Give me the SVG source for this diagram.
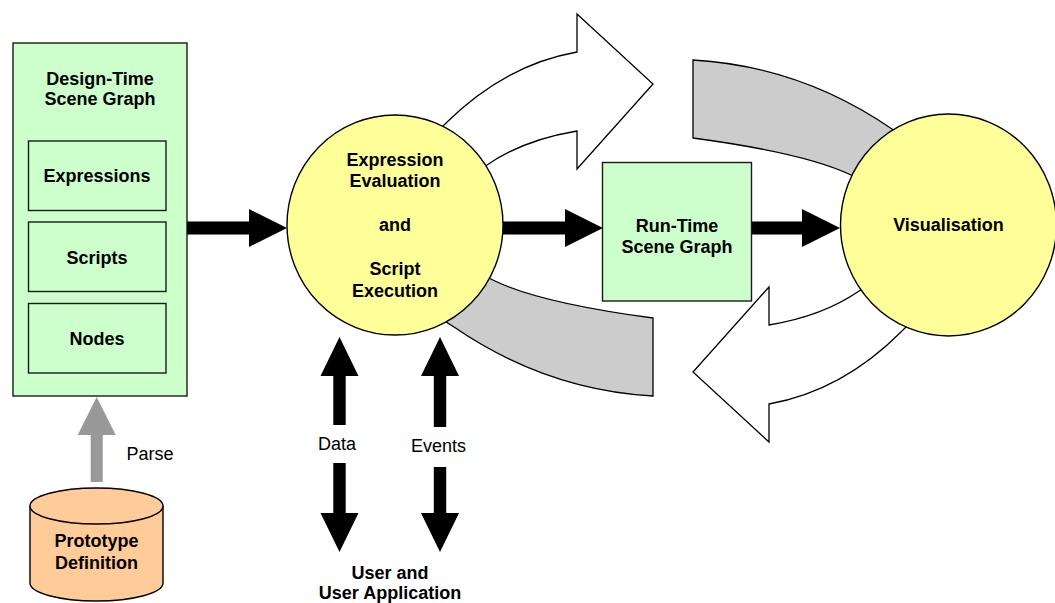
<svg xmlns="http://www.w3.org/2000/svg" width="1055" height="603" viewBox="0 0 1055 603">
  <style>
    .box { fill: #CCFFCC; stroke: #1a1a1a; stroke-width: 1.4; }
    .proc { fill: #FFFF99; stroke: #000; stroke-width: 1.4; }
    .db { fill: #FFCC99; stroke: #000; stroke-width: 1.4; }
    .white-arrow { fill: #FFFFFF; stroke: #000; stroke-width: 1.3; stroke-linejoin: miter; }
    .grey-band { fill: #CCCCCC; stroke: #000; stroke-width: 1.3; }
    .flow { fill: #000; stroke: none; }
    .parse { fill: #999999; stroke: none; }
    text { font-family: "Liberation Sans", Arial, sans-serif; font-size: 18px; fill: #000; }
    .b { font-weight: bold; text-anchor: middle; }
    .r { font-weight: normal; }
  </style>

  <!-- processing cycle between evaluation and visualisation -->
  <g id="cycle">
    <g id="cycle-upper">
      <path class="white-arrow" d="M 433,136 L 445,124 Q 504,65 577,52 L 577,14 L 653,84 L 577,169 L 577,131 Q 523,140 487,165 L 473.6,171.8 Z"/>
      <path class="grey-band" d="M 693,60 Q 800,66 892,129 L 904.6,137 L 864.5,181.5 L 851,175 Q 805,153 693,138 Z"/>
    </g>
    <g id="cycle-lower" transform="rotate(180 673 228)">
      <path class="white-arrow" d="M 433,136 L 445,124 Q 504,65 577,52 L 577,14 L 653,84 L 577,169 L 577,131 Q 523,140 487,165 L 473.6,171.8 Z"/>
      <path class="grey-band" d="M 693,60 Q 800,66 892,129 L 904.6,137 L 864.5,181.5 L 851,175 Q 805,153 693,138 Z"/>
    </g>
  </g>

  <!-- design-time scene graph -->
  <g id="design-time">
    <rect class="box" x="13" y="43" width="174" height="353"/>
    <text class="b" x="100" y="84.5">Design-Time</text>
    <text class="b" x="100" y="105">Scene Graph</text>
    <g id="expressions">
      <rect class="box" x="28.5" y="141" width="137.5" height="69.5"/>
      <text class="b" x="97" y="182">Expressions</text>
    </g>
    <g id="scripts">
      <rect class="box" x="28.5" y="222" width="137.5" height="69.5"/>
      <text class="b" x="97" y="263.5">Scripts</text>
    </g>
    <g id="nodes">
      <rect class="box" x="28.5" y="303.5" width="137.5" height="69.5"/>
      <text class="b" x="97" y="344.5">Nodes</text>
    </g>
  </g>

  <!-- expression evaluation and script execution -->
  <g id="evaluation">
    <ellipse class="proc" cx="395" cy="225" rx="108" ry="110"/>
    <text class="b" x="395" y="165.5">Expression</text>
    <text class="b" x="395" y="187">Evaluation</text>
    <text class="b" x="395" y="230.5">and</text>
    <text class="b" x="395" y="274.5">Script</text>
    <text class="b" x="395" y="296.5">Execution</text>
  </g>

  <!-- run-time scene graph -->
  <g id="run-time">
    <rect class="box" x="602.5" y="162.5" width="149" height="138.5"/>
    <text class="b" x="677" y="231.5">Run-Time</text>
    <text class="b" x="677" y="253">Scene Graph</text>
  </g>

  <!-- visualisation -->
  <g id="visualisation">
    <ellipse class="proc" cx="948.5" cy="225" rx="108" ry="111"/>
    <text class="b" x="948.5" y="231">Visualisation</text>
  </g>

  <!-- prototype definition store -->
  <g id="prototype">
    <path class="db" d="M 30,506 L 30,583 A 66.5,18 0 0 0 163,583 L 163,506"/>
    <ellipse class="db" cx="96.5" cy="506" rx="66.5" ry="18"/>
    <text class="b" x="96.5" y="547">Prototype</text>
    <text class="b" x="96.5" y="568.5">Definition</text>
  </g>

  <!-- user and user application -->
  <g id="user">
    <text class="b" x="390" y="578.5">User and</text>
    <text class="b" x="390" y="599">User Application</text>
  </g>

  <!-- connectors -->
  <g id="connectors">
    <polygon class="flow" points="187,221.5 249,221.5 249,209 287,228 249,247 249,234.5 187,234.5"/>
    <polygon class="flow" points="503,221.5 565,221.5 565,209 603,228 565,247 565,234.5 503,234.5"/>
    <polygon class="flow" points="752,221.5 802,221.5 802,209 840,228 802,247 802,234.5 752,234.5"/>

    <polygon class="parse" points="96.7,397 115.7,435 102.7,435 102.7,482 90.7,482 90.7,435 77.7,435"/>
    <text class="r" x="126.5" y="460">Parse</text>

    <polygon class="flow" points="339.5,337 358.5,376 345.7,376 345.7,425 333.3,425 333.3,376 320.5,376"/>
    <polygon class="flow" points="333.3,463 345.7,463 345.7,513 358.5,513 339.5,552 320.5,513 333.3,513"/>
    <text class="r" x="337" y="450" text-anchor="middle">Data</text>

    <polygon class="flow" points="440,337 459,376 446.2,376 446.2,427 433.8,427 433.8,376 421,376"/>
    <polygon class="flow" points="433.8,467 446.2,467 446.2,513 459,513 440,552 421,513 433.8,513"/>
    <text class="r" x="438.5" y="452" text-anchor="middle">Events</text>
  </g>
</svg>
